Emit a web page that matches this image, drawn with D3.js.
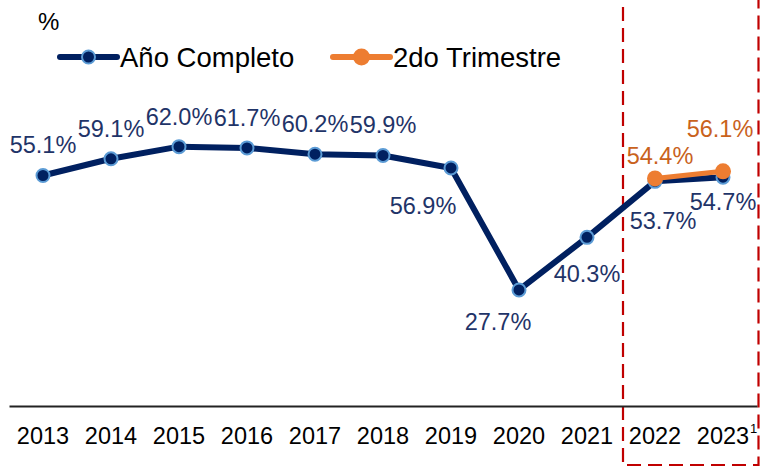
<!DOCTYPE html>
<meta charset="utf-8">
<style>
    body { margin: 0; background: #fff; }
    svg text { font-family: "Liberation Sans", Arial, sans-serif; }
</style>
<svg width="760" height="469"></svg>
<script src="https://cdn.jsdelivr.net/npm/d3@7/dist/d3.min.js"></script>
<script>

    var years = ["2013", "2014", "2015", "2016", "2017", "2018", "2019", "2020", "2021", "2022", "2023"];
    var anioCompleto = [55.1, 59.1, 62.0, 61.7, 60.2, 59.9, 56.9, 27.7, 40.3, 53.7, 54.7];
    var trimYears = ["2022", "2023"];
    var segundoTrim = [54.4, 56.1];

    // label offsets from each point (dx, dy of text baseline)
    var blueLabelPos = {
        "2019": [-28, 46], "2020": [-21, 40], "2021": [0, 45],
        "2022": [8, 48], "2023": [0, 33]
    };
    var orangeLabelPos = { "2022": [5, -14], "2023": [-3, -34] };

    var svg = d3.select("svg"),
        blue = "#002060",
        blueText = "#1f3468",
        orange = "#ed7d31",
        orangeText = "#c9621c";

    var x = d3.scaleBand()
        .domain(years)
        .range([9, 757]);

    var y = d3.scaleLinear()
        .domain([0, 80])
        .range([405.7, 405.7 - 80 * 4.178]);

    var cx = function(d) { return x(d) + x.bandwidth() / 2; };

    // highlighted area for the latest years (open at the top)
    svg.append("path")
        .attr("d", "M623,7 V465 H758.5 V0")
        .attr("fill", "none")
        .attr("stroke", "#c00000")
        .attr("stroke-width", 2.2)
        .attr("stroke-dasharray", "14,7");

    // x axis
    var xAxis = svg.append("g")
        .attr("transform", "translate(0,406)")
        .call(d3.axisBottom(x).tickSize(0).tickPadding(21));
    xAxis.select(".domain").attr("stroke", "#222").attr("stroke-width", 2);
    xAxis.selectAll("text")
        .style("font-family", "'Liberation Sans', Arial, sans-serif")
        .style("font-size", "23.5px")
        .attr("fill", "#000");

    svg.append("text")
        .attr("x", 750).attr("y", 433)
        .style("font-size", "13px")
        .text("1");

    svg.append("text")
        .attr("x", 38).attr("y", 30)
        .style("font-size", "24px")
        .text("%");

    var blueData = years.map(function(d, i) { return {year: d, v: anioCompleto[i]}; });
    var orangeData = trimYears.map(function(d, i) { return {year: d, v: segundoTrim[i]}; });

    var line = d3.line()
        .x(function(d) { return cx(d.year); })
        .y(function(d) { return y(d.v); });

    svg.append("path")
        .datum(blueData)
        .attr("d", line)
        .attr("fill", "none")
        .attr("stroke", blue)
        .attr("stroke-width", 6)
        .attr("stroke-linejoin", "round");

    svg.selectAll(".bdot")
        .data(blueData)
        .enter().append("circle")
        .attr("cx", function(d) { return cx(d.year); })
        .attr("cy", function(d) { return y(d.v); })
        .attr("r", 6.5)
        .attr("fill", blue)
        .attr("stroke", "#5b9bd5")
        .attr("stroke-width", 2);

    svg.append("path")
        .datum(orangeData)
        .attr("d", line)
        .attr("fill", "none")
        .attr("stroke", orange)
        .attr("stroke-width", 5);

    svg.selectAll(".odot")
        .data(orangeData)
        .enter().append("circle")
        .attr("cx", function(d) { return cx(d.year); })
        .attr("cy", function(d) { return y(d.v); })
        .attr("r", 8)
        .attr("fill", orange);

    svg.selectAll(".blabel")
        .data(blueData)
        .enter().append("text")
        .attr("x", function(d) {
            var p = blueLabelPos[d.year] || [0, -22];
            return cx(d.year) + p[0];
        })
        .attr("y", function(d) {
            var p = blueLabelPos[d.year] || [0, -22];
            return y(d.v) + p[1];
        })
        .attr("text-anchor", "middle")
        .attr("fill", blueText)
        .style("font-size", "23.5px")
        .text(function(d) { return d.v.toFixed(1) + "%"; });

    svg.selectAll(".olabel")
        .data(orangeData)
        .enter().append("text")
        .attr("x", function(d) { return cx(d.year) + orangeLabelPos[d.year][0]; })
        .attr("y", function(d) { return y(d.v) + orangeLabelPos[d.year][1]; })
        .attr("text-anchor", "middle")
        .attr("fill", orangeText)
        .style("font-size", "23.5px")
        .text(function(d) { return d.v.toFixed(1) + "%"; });

    // legend
    var legend = [
        {name: "Año Completo", x: 60, color: blue, stroke: "#5b9bd5", r: 6.5},
        {name: "2do Trimestre", x: 333, color: orange, stroke: orange, r: 7.5}
    ];
    var lg = svg.selectAll(".legend")
        .data(legend)
        .enter().append("g")
        .attr("transform", function(d) { return "translate(" + d.x + ",57)"; });
    lg.append("line")
        .attr("x1", 0).attr("x2", 57)
        .attr("stroke", function(d) { return d.color; })
        .attr("stroke-width", 6)
        .attr("stroke-linecap", "round");
    lg.append("circle")
        .attr("cx", 28.5).attr("r", function(d) { return d.r; })
        .attr("fill", function(d) { return d.color; })
        .attr("stroke", function(d) { return d.stroke; })
        .attr("stroke-width", 2);
    lg.append("text")
        .attr("x", 60).attr("y", 10)
        .style("font-size", "27.5px")
        .text(function(d) { return d.name; });
</script>
